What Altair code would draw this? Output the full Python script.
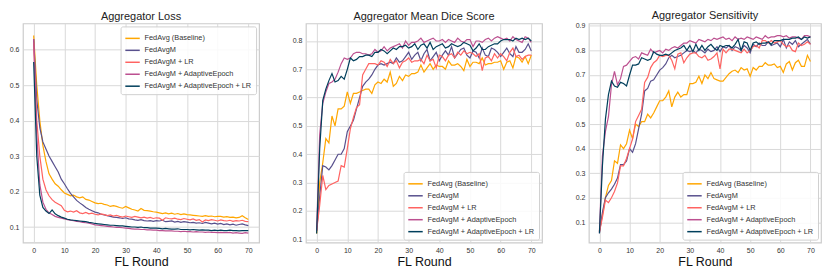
import altair as alt
import pandas as pd

rounds = list(range(71))

series_names = [
    "FedAvg (Baseline)",
    "FedAvgM",
    "FedAvgM + LR",
    "FedAvgM + AdaptiveEpoch",
    "FedAvgM + AdaptiveEpoch + LR",
]
series_colors = ["#ffa600", "#58508d", "#ff6361", "#bc5090", "#003f5c"]

# ---------------- Aggregator Loss ----------------
loss_fedavg = [
    0.640, 0.500, 0.400, 0.330, 0.285, 0.250, 0.235, 0.222, 0.215, 0.205,
    0.196, 0.192, 0.188, 0.190, 0.185, 0.182, 0.185, 0.178, 0.176, 0.172,
    0.168, 0.166, 0.167, 0.164, 0.162, 0.158, 0.160, 0.158, 0.155, 0.153,
    0.158, 0.154, 0.150, 0.148, 0.145, 0.152, 0.147, 0.146, 0.145, 0.143,
    0.142, 0.140, 0.138, 0.140, 0.137, 0.139, 0.136, 0.138, 0.135, 0.137,
    0.135, 0.134, 0.133, 0.132, 0.131, 0.130, 0.132, 0.130, 0.131, 0.129,
    0.130, 0.130, 0.128, 0.129, 0.127, 0.128, 0.126, 0.127, 0.132, 0.126,
    0.121,
]
loss_fedavgm = [
    0.630, 0.460, 0.380, 0.340, 0.320, 0.300, 0.285, 0.270, 0.255, 0.235,
    0.222, 0.208, 0.195, 0.185, 0.175, 0.168, 0.162, 0.155, 0.150, 0.146,
    0.142, 0.140, 0.136, 0.134, 0.132, 0.130, 0.128, 0.127, 0.126, 0.124,
    0.126, 0.123, 0.122, 0.120, 0.119, 0.121, 0.118, 0.117, 0.118, 0.116,
    0.118, 0.117, 0.119, 0.115, 0.116, 0.117, 0.114, 0.116, 0.113, 0.115,
    0.114, 0.112, 0.113, 0.111, 0.112, 0.110, 0.113, 0.111, 0.109, 0.111,
    0.108, 0.110, 0.107, 0.109, 0.106, 0.108, 0.105, 0.107, 0.109, 0.106,
    0.104,
]
loss_fedavgm_lr = [
    0.620, 0.400, 0.300, 0.235, 0.205, 0.188, 0.177, 0.170, 0.165, 0.160,
    0.147, 0.143, 0.145, 0.142, 0.146, 0.140, 0.138, 0.141, 0.137, 0.139,
    0.136, 0.134, 0.137, 0.135, 0.132, 0.134, 0.131, 0.133, 0.130, 0.128,
    0.131, 0.129, 0.127, 0.130, 0.128, 0.126, 0.128, 0.125, 0.127, 0.124,
    0.126, 0.125, 0.119, 0.126, 0.124, 0.123, 0.125, 0.122, 0.121, 0.124,
    0.122, 0.120, 0.123, 0.119, 0.121, 0.114, 0.120, 0.118, 0.121, 0.119,
    0.117, 0.120, 0.118, 0.117, 0.119, 0.116, 0.118, 0.117, 0.119, 0.116,
    0.115,
]
loss_adaptive = [
    0.630, 0.360, 0.220, 0.170, 0.150, 0.140, 0.135, 0.130, 0.127, 0.125,
    0.123, 0.121, 0.119, 0.118, 0.116, 0.115, 0.113, 0.112, 0.111, 0.109,
    0.106, 0.105, 0.104, 0.103, 0.102, 0.101, 0.100, 0.099, 0.099, 0.098,
    0.097, 0.096, 0.095, 0.094, 0.094, 0.093, 0.093, 0.092, 0.092, 0.091,
    0.091, 0.090, 0.090, 0.089, 0.089, 0.089, 0.088, 0.088, 0.087, 0.088,
    0.087, 0.087, 0.086, 0.087, 0.086, 0.086, 0.085, 0.086, 0.085, 0.085,
    0.084, 0.085, 0.084, 0.084, 0.085, 0.083, 0.084, 0.083, 0.082, 0.084,
    0.083,
]
loss_adaptive_lr = [
    0.565, 0.300, 0.190, 0.155, 0.145, 0.138, 0.148, 0.137, 0.132, 0.128,
    0.125, 0.122, 0.120, 0.119, 0.118, 0.117, 0.116, 0.115, 0.113, 0.112,
    0.110, 0.109, 0.108, 0.107, 0.106, 0.105, 0.105, 0.104, 0.103, 0.103,
    0.102, 0.101, 0.100, 0.100, 0.099, 0.100, 0.098, 0.098, 0.097, 0.097,
    0.097, 0.096, 0.095, 0.096, 0.095, 0.094, 0.094, 0.095, 0.093, 0.093,
    0.093, 0.092, 0.093, 0.092, 0.091, 0.092, 0.091, 0.091, 0.090, 0.091,
    0.090, 0.091, 0.090, 0.090, 0.091, 0.090, 0.090, 0.089, 0.090, 0.090,
    0.090,
]

# ---------------- Aggregator Mean Dice Score ----------------
dice_fedavg = [
    0.120, 0.300, 0.370, 0.455, 0.440, 0.535, 0.500, 0.560, 0.560, 0.570,
    0.620, 0.580, 0.615, 0.615, 0.620, 0.625, 0.630, 0.630, 0.615, 0.645,
    0.655, 0.650, 0.665, 0.655, 0.690, 0.640, 0.650, 0.675, 0.660, 0.680,
    0.675, 0.685, 0.685, 0.690, 0.715, 0.690, 0.705, 0.720, 0.700, 0.715,
    0.710, 0.710, 0.700, 0.730, 0.715, 0.715, 0.720, 0.710, 0.695, 0.735,
    0.710, 0.725, 0.725, 0.720, 0.740, 0.715, 0.720, 0.720, 0.725, 0.725,
    0.730, 0.700, 0.725, 0.730, 0.705, 0.745, 0.740, 0.725, 0.745, 0.720,
    0.750,
]
dice_fedavgm = [
    0.130, 0.250, 0.360, 0.355, 0.345, 0.360, 0.380, 0.400, 0.400, 0.420,
    0.480, 0.500, 0.520, 0.560, 0.600, 0.640, 0.655, 0.665, 0.680, 0.700,
    0.715, 0.720, 0.715, 0.720, 0.725, 0.720, 0.740, 0.725, 0.730, 0.745,
    0.760, 0.735, 0.750, 0.760, 0.730, 0.755, 0.770, 0.730, 0.745, 0.760,
    0.730, 0.750, 0.765, 0.750, 0.780, 0.740, 0.755, 0.770, 0.775, 0.750,
    0.740, 0.765, 0.760, 0.740, 0.775, 0.750, 0.745, 0.775, 0.770, 0.760,
    0.745, 0.760, 0.775, 0.755, 0.745, 0.780, 0.760, 0.760, 0.770, 0.790,
    0.765,
]
dice_fedavgm_lr = [
    0.130, 0.220, 0.325, 0.275, 0.290, 0.295, 0.300, 0.305, 0.360, 0.355,
    0.420, 0.490, 0.530, 0.565, 0.575, 0.680, 0.700, 0.720, 0.720, 0.720,
    0.715, 0.730, 0.725, 0.710, 0.735, 0.720, 0.730, 0.705, 0.725, 0.730,
    0.740, 0.725, 0.730, 0.730, 0.735, 0.720, 0.750, 0.730, 0.735, 0.705,
    0.750, 0.745, 0.730, 0.750, 0.755, 0.740, 0.760, 0.750, 0.765, 0.755,
    0.760, 0.755, 0.745, 0.755, 0.695, 0.740, 0.745, 0.730, 0.755, 0.740,
    0.755, 0.745, 0.730, 0.760, 0.775, 0.745, 0.750, 0.735, 0.745, 0.750,
    0.750,
]
dice_adaptive = [
    0.130, 0.470, 0.580, 0.620, 0.650, 0.655, 0.665, 0.690, 0.720, 0.740,
    0.735, 0.740, 0.755, 0.760, 0.760, 0.755, 0.755, 0.750, 0.755, 0.770,
    0.760, 0.765, 0.780, 0.765, 0.775, 0.780, 0.785, 0.790, 0.775, 0.800,
    0.785, 0.795, 0.795, 0.800, 0.810, 0.795, 0.800, 0.805, 0.810, 0.800,
    0.800, 0.805, 0.795, 0.805, 0.800, 0.795, 0.810, 0.800, 0.795, 0.805,
    0.805, 0.780, 0.800, 0.800, 0.795, 0.805, 0.810, 0.800, 0.810, 0.815,
    0.810, 0.805, 0.810, 0.800, 0.815, 0.805, 0.800, 0.795, 0.815, 0.810,
    0.795,
]
dice_adaptive_lr = [
    0.120, 0.420, 0.590, 0.630, 0.660, 0.685, 0.655, 0.660, 0.675, 0.665,
    0.700, 0.740, 0.730, 0.735, 0.745, 0.745, 0.750, 0.750, 0.745, 0.760,
    0.760, 0.770, 0.765, 0.755, 0.765, 0.775, 0.770, 0.780, 0.780, 0.785,
    0.775, 0.780, 0.790, 0.770, 0.785, 0.790, 0.775, 0.795, 0.770, 0.780,
    0.785, 0.790, 0.775, 0.780, 0.790, 0.785, 0.780, 0.785, 0.795, 0.790,
    0.785, 0.765, 0.775, 0.790, 0.770, 0.770, 0.780, 0.785, 0.790, 0.790,
    0.800, 0.805, 0.805, 0.805, 0.800, 0.810, 0.805, 0.810, 0.805, 0.810,
    0.800,
]

# ---------------- Aggregator Sensitivity ----------------
sens_fedavg = [
    0.065, 0.130, 0.200, 0.250, 0.270, 0.350, 0.340, 0.415, 0.400, 0.420,
    0.475, 0.440, 0.500, 0.490, 0.510, 0.510, 0.540, 0.525, 0.545, 0.570,
    0.595, 0.595, 0.610, 0.635, 0.570, 0.610, 0.630, 0.610, 0.620, 0.620,
    0.665, 0.665, 0.670, 0.695, 0.665, 0.700, 0.685, 0.710, 0.685, 0.680,
    0.675, 0.675, 0.690, 0.705, 0.715, 0.720, 0.710, 0.730, 0.720, 0.725,
    0.695, 0.730, 0.720, 0.735, 0.735, 0.750, 0.740, 0.740, 0.745, 0.730,
    0.735, 0.710, 0.745, 0.755, 0.720, 0.750, 0.760, 0.735, 0.735, 0.780,
    0.755,
]
sens_fedavgm = [
    0.055, 0.140, 0.200, 0.220, 0.235, 0.255, 0.280, 0.335, 0.335, 0.350,
    0.400, 0.385, 0.420, 0.480, 0.540, 0.635, 0.645, 0.675, 0.680, 0.700,
    0.720, 0.730, 0.745, 0.770, 0.780, 0.770, 0.775, 0.780, 0.790, 0.800,
    0.795, 0.800, 0.790, 0.805, 0.800, 0.790, 0.805, 0.795, 0.800, 0.815,
    0.795, 0.815, 0.810, 0.820, 0.800, 0.815, 0.810, 0.800, 0.820, 0.810,
    0.790, 0.825, 0.815, 0.830, 0.820, 0.820, 0.835, 0.820, 0.825, 0.830,
    0.815, 0.845, 0.810, 0.835, 0.825, 0.840, 0.815, 0.825, 0.835, 0.845,
    0.825,
]
sens_fedavgm_lr = [
    0.060, 0.120, 0.190, 0.180, 0.200, 0.225, 0.260, 0.330, 0.330, 0.360,
    0.400, 0.440, 0.510, 0.535, 0.560, 0.670, 0.690, 0.730, 0.750, 0.760,
    0.780, 0.775, 0.780, 0.780, 0.760, 0.725, 0.785, 0.790, 0.750, 0.770,
    0.785, 0.790, 0.790, 0.775, 0.770, 0.780, 0.760, 0.765, 0.775, 0.790,
    0.725, 0.805, 0.790, 0.805, 0.805, 0.800, 0.795, 0.790, 0.805, 0.790,
    0.800, 0.815, 0.820, 0.810, 0.840, 0.840, 0.830, 0.840, 0.830, 0.835,
    0.840, 0.825, 0.815, 0.820, 0.800, 0.795, 0.830, 0.820, 0.825, 0.835,
    0.825,
]
sens_adaptive = [
    0.060, 0.370, 0.470, 0.530, 0.660, 0.715, 0.660, 0.685, 0.735, 0.740,
    0.755, 0.770, 0.775, 0.765, 0.790, 0.785, 0.780, 0.805, 0.790, 0.795,
    0.800, 0.790, 0.805, 0.800, 0.810, 0.815, 0.810, 0.820, 0.830, 0.830,
    0.840, 0.835, 0.830, 0.845, 0.840, 0.835, 0.845, 0.840, 0.850, 0.845,
    0.850, 0.855, 0.845, 0.850, 0.840, 0.855, 0.845, 0.850, 0.845, 0.855,
    0.850, 0.845, 0.855, 0.850, 0.845, 0.860, 0.850, 0.855, 0.855, 0.860,
    0.860, 0.855, 0.860, 0.850, 0.855, 0.855, 0.850, 0.845, 0.860, 0.860,
    0.855,
]
sens_adaptive_lr = [
    0.055, 0.330, 0.520, 0.620, 0.675, 0.655, 0.650, 0.670, 0.665, 0.655,
    0.700, 0.740, 0.740, 0.745, 0.770, 0.765, 0.760, 0.765, 0.795, 0.785,
    0.780, 0.780, 0.785, 0.780, 0.790, 0.800, 0.805, 0.810, 0.820, 0.800,
    0.820, 0.795, 0.825, 0.800, 0.820, 0.800, 0.815, 0.825, 0.810, 0.800,
    0.820, 0.815, 0.820, 0.820, 0.810, 0.825, 0.845, 0.800, 0.835, 0.830,
    0.800, 0.830, 0.835, 0.825, 0.830, 0.830, 0.835, 0.825, 0.840, 0.840,
    0.840, 0.845, 0.845, 0.845, 0.850, 0.850, 0.855, 0.845, 0.855, 0.850,
    0.855,
]

panels = [
    ("Aggregator Loss",
     [loss_fedavg, loss_fedavgm, loss_fedavgm_lr, loss_adaptive, loss_adaptive_lr],
     [0.056, 0.674], [0.1, 0.2, 0.3, 0.4, 0.5, 0.6], "top-right", 237),
    ("Aggregator Mean Dice Score",
     [dice_fedavg, dice_fedavgm, dice_fedavgm_lr, dice_adaptive, dice_adaptive_lr],
     [0.088, 0.862], [0.1, 0.2, 0.3, 0.4, 0.5, 0.6, 0.7, 0.8], "bottom-right", 237),
    ("Aggregator Sensitivity",
     [sens_fedavg, sens_fedavgm, sens_fedavgm_lr, sens_adaptive, sens_adaptive_lr],
     [0.017, 0.910], [0.1, 0.2, 0.3, 0.4, 0.5, 0.6, 0.7, 0.8, 0.9], "bottom-right", 233),
]

FONT = "Liberation Sans"
charts = []
for title, series, ydom, yticks, legend_orient, w in panels:
    rows = []
    for k, (name, vals) in enumerate(zip(series_names, series)):
        for r, v in zip(rounds, vals):
            rows.append({"round": r, "value": v, "series": name, "order": k})
    df = pd.DataFrame(rows)
    c = (
        alt.Chart(df)
        .mark_line(strokeWidth=1.2)
        .encode(
            x=alt.X("round:Q",
                    scale=alt.Scale(domain=[-3.5, 73.5], nice=False, zero=False),
                    axis=alt.Axis(values=[0, 10, 20, 30, 40, 50, 60, 70],
                                  title="FL Round")),
            y=alt.Y("value:Q",
                    scale=alt.Scale(domain=ydom, nice=False, zero=False),
                    axis=alt.Axis(values=yticks, title=None, format=".1f")),
            color=alt.Color("series:N",
                            scale=alt.Scale(domain=series_names, range=series_colors),
                            sort=series_names,
                            legend=alt.Legend(orient=legend_orient, title=None)),
            detail="order:O",
        )
        .properties(width=w, height=220,
                    title=alt.Title(title, fontSize=11, font=FONT, fontWeight="normal",
                                    color="#222222", offset=1))
    )
    charts.append(c)

chart = (
    alt.hconcat(*charts, spacing=31)
    .resolve_scale(x="independent", y="independent", color="independent")
    .properties(padding={"left": 0, "top": 0, "right": 0, "bottom": 0})
    .configure_view(stroke="#cccccc", strokeWidth=1.2)
    .configure_axis(
        grid=True, gridColor="#d9d9d9", gridWidth=1, domain=False, ticks=False,
        labelFont=FONT, labelFontSize=7, labelColor="#333333", labelPadding=4,
        titleFont=FONT, titleFontSize=12.5, titleFontWeight="normal",
        titleColor="#111111", titlePadding=2,
    )
    .configure_legend(
        labelFont=FONT, labelFontSize=7.4, labelColor="#333333",
        symbolType="stroke", symbolSize=210, symbolStrokeWidth=1.5,
        rowPadding=-3, padding=4, offset=3, cornerRadius=2,
        strokeColor="#d0d0d0", fillColor="rgba(255,255,255,0.85)", labelLimit=200,
    )
)

chart.save("out.html", embed_options={"renderer": "svg", "actions": False})
